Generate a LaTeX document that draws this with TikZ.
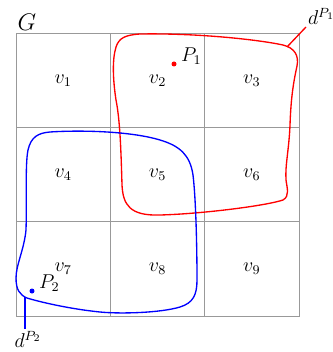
\documentclass[tikz,border=0pt]{standalone}
\begin{document}
\begin{tikzpicture}[x=0.6pt,y=-0.6pt,
	cell/.style={draw=black!40, line width=0.5pt, rectangle, minimum size=56.6pt, inner sep=0pt, font=\large},
	dot/.style={circle, fill, inner sep=0pt, minimum size=3pt},
	region/.style={line width=0.8pt}]
		\useasboundingbox (0,0) rectangle (332,352);

		% the 3x3 grid
		\node[cell] (v1) at (63.2,80.2) {$v_1$};
		\node[cell] (v2) at (157.5,80.2) {$v_2$};
		\node[cell] (v3) at (251.8,80.2) {$v_3$};
		\node[cell] (v4) at (63.2,174.5) {$v_4$};
		\node[cell] (v5) at (157.5,174.5) {$v_5$};
		\node[cell] (v6) at (251.8,174.5) {$v_6$};
		\node[cell] (v7) at (63.2,268.8) {\raisebox{2pt}{$v_7$}};
		\node[cell] (v8) at (157.5,268.8) {\raisebox{2pt}{$v_8$}};
		\node[cell] (v9) at (251.8,268.8) {\raisebox{2pt}{$v_9$}};
		\node[anchor=south west, inner sep=1pt] (g) at (v1.north west) {\Large $G$};

		% points
		\node[dot, red] (p1) at (174,64) {};
		\node[anchor=west, inner sep=1pt, font=\large] (p1lab) at (179,56) {$P_1$};
		\node[dot, blue] (p2) at (32,291) {};
		\node[anchor=west, inner sep=1pt, font=\large] (p2lab) at (37,283) {$P_2$};

		% regions
		\draw[red, region] (140,34) .. controls (200,33) and (260,40) .. (283,45)
			.. controls (295,48) and (299,56) .. (297,66)
			.. controls (294,80) and (291,95) .. (290,125)
			.. controls (289,150) and (285,165) .. (286,180)
			.. controls (287,188) and (290,196) .. (283,200)
			.. controls (265,206) and (200,214) .. (160,215)
			.. controls (130,216) and (123,205) .. (122,185)
			.. controls (121,150) and (120,120) .. (116,100)
			.. controls (113,80) and (112,60) .. (116,47)
			.. controls (119,38) and (125,35) .. (140,34) -- cycle;
		\draw[blue, region] (50,132) .. controls (80,130) and (130,131) .. (160,140)
			.. controls (180,146) and (190,155) .. (193,175)
			.. controls (196,200) and (197,250) .. (197,280)
			.. controls (197,295) and (193,303) .. (180,307)
			.. controls (160,313) and (120,314) .. (100,312)
			.. controls (70,309) and (40,302) .. (27,298)
			.. controls (20,295) and (16,290) .. (16,278)
			.. controls (16,265) and (24,250) .. (26,230)
			.. controls (27,200) and (25,165) .. (28,150)
			.. controls (31,137) and (38,133) .. (50,132) -- cycle;

		% labels of the regions
		\coordinate (r1) at (287,47);
		\node[anchor=south west, inner sep=1pt, font=\large] (d1) at (306,27) {$d^{P_1}$};
		\draw[red, region] (r1) -- (d1.south west);
		\coordinate (b1) at (25,297);
		\node[anchor=north, inner sep=1pt, font=\large] (d2) at (28,329) {$d^{P_2}$};
		\draw[blue, region] (b1) -- (b1 |- d2.north);

	\end{tikzpicture}
\end{document}
